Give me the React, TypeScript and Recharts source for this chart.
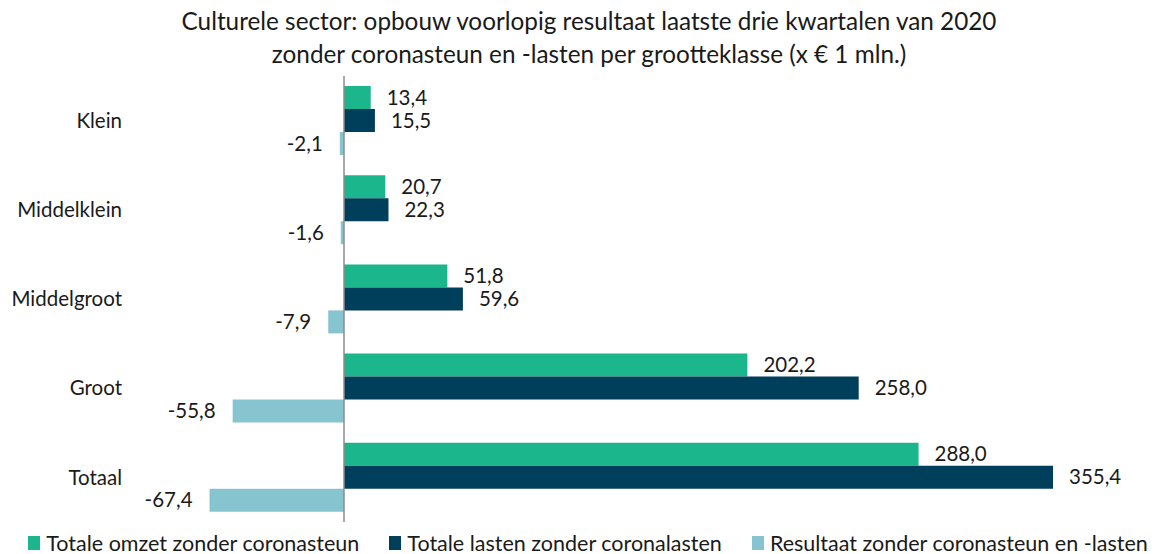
import React from 'react';
import { BarChart, Bar, XAxis, YAxis, Legend, LabelList, ReferenceLine } from 'recharts';

const categories = ['Klein', 'Middelklein', 'Middelgroot', 'Groot', 'Totaal'];
const omzet = [13.4, 20.7, 51.8, 202.2, 288.0];
const lasten = [15.5, 22.3, 59.6, 258.0, 355.4];
const resultaat = [-2.1, -1.6, -7.9, -55.8, -67.4];

const seriesNames = [
  'Totale omzet zonder coronasteun',
  'Totale lasten zonder coronalasten',
  'Resultaat zonder coronasteun en -lasten',
];
const colors = ['#1bb68b', '#003f5c', '#86c5cf'];

const data = categories.map((name, i) => ({
  name,
  omzet: omzet[i],
  lasten: lasten[i],
  resultaat: resultaat[i],
}));

const FONT = 'Lato, "Noto Sans", sans-serif';

const fmt = (v: number) => v.toFixed(1).replace('.', ',');

const ValueLabel = (props: any) => {
  const { x, y, width, height, value } = props;
  const v = Number(value);
  const a = Number(x);
  const b = Number(x) + Number(width);
  const cy = Number(y) + Number(height) / 2;
  if (v >= 0) {
    return (
      <text x={Math.max(a, b) + 16} y={cy} dy="0.35em" textAnchor="start" fontSize={20.5} fill="#1a1a1a" fontFamily={FONT}>
        {fmt(v)}
      </text>
    );
  }
  return (
    <text x={Math.min(a, b) - 17} y={cy} dy="0.35em" textAnchor="end" fontSize={20.5} fill="#1a1a1a" fontFamily={FONT}>
      {fmt(v)}
    </text>
  );
};

const LegendContent = (props: any) => {
  const payload = [...(props.payload || [])].sort(
    (p: any, q: any) => seriesNames.indexOf(p.value) - seriesNames.indexOf(q.value)
  );
  return (
    <div style={{ display: 'flex', justifyContent: 'center', width: 1158, paddingLeft: 18, boxSizing: 'border-box', fontFamily: FONT, fontSize: 21.5, color: '#1a1a1a' }}>
      {payload.map((p: any, i: number) => (
        <div key={i} style={{ display: 'flex', alignItems: 'center', marginRight: i < 2 ? 30 : 0 }}>
          <span style={{ display: 'inline-block', width: 12, height: 14, background: p.color, marginRight: 6 }} />
          <span>{p.value}</span>
        </div>
      ))}
    </div>
  );
};

export default function App() {
  return (
    <div style={{ position: 'absolute', left: 0, top: 0, width: 1158, height: 554, background: '#fff', fontFamily: FONT }}>
      <div style={{ position: 'absolute', left: 0, top: 4, width: 1158, paddingLeft: 20, boxSizing: 'border-box', textAlign: 'center', fontSize: 24.3, lineHeight: '33px', color: '#1a1a1a' }}>
        <div>Culturele sector: opbouw voorlopig resultaat laatste drie kwartalen van 2020</div>
        <div>zonder coronasteun en -lasten per grootteklasse (x € 1 mln.)</div>
      </div>
      <BarChart
        width={1158}
        height={554}
        data={data}
        layout="vertical"
        margin={{ top: 76, right: 16, bottom: 32, left: 14.5 }}
        barGap={0}
        barSize={23}
        style={{ position: 'absolute', left: 0, top: 0 }}
      >
        <XAxis type="number" domain={[-100, 400]} hide />
        <YAxis
          type="category"
          dataKey="name"
          width={130}
          axisLine={false}
          tickLine={false}
          tickMargin={16.5}
          tick={{ fontSize: 20.5, fill: '#1a1a1a', fontFamily: FONT }}
        />
        <Legend
          layout="horizontal"
          verticalAlign="middle"
          content={<LegendContent />}
          wrapperStyle={{ position: 'absolute', top: 530, left: 0, width: 1158 }}
        />
        <Bar dataKey="omzet" name={seriesNames[0]} fill={colors[0]} isAnimationActive={false}>
          <LabelList dataKey="omzet" content={<ValueLabel />} />
        </Bar>
        <Bar dataKey="lasten" name={seriesNames[1]} fill={colors[1]} isAnimationActive={false}>
          <LabelList dataKey="lasten" content={<ValueLabel />} />
        </Bar>
        <Bar dataKey="resultaat" name={seriesNames[2]} fill={colors[2]} isAnimationActive={false}>
          <LabelList dataKey="resultaat" content={<ValueLabel />} />
        </Bar>
        <ReferenceLine x={0} stroke="#8c8c8c" strokeWidth={1.5} />
      </BarChart>
    </div>
  );
}
